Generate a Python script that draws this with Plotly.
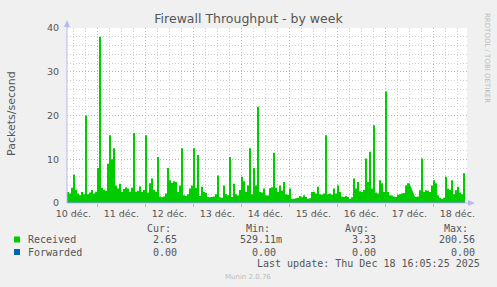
import plotly.graph_objects as go
import pandas as pd

# ---------------- data (hourly samples, packets/second) ----------------
received = [
    2.5, 2.2, 3.5, 6.5, 3.0, 2.2, 1.8, 2.5, 2.0, 20.0,
    2.0, 2.4, 3.0, 2.2, 2.6, 8.0, 38.0, 3.5, 3.0, 2.8,
    9.0, 15.5, 10.0, 12.5, 4.0, 3.3, 4.4, 2.6, 3.2, 3.6,
    3.3, 2.6, 3.5, 16.0, 2.6, 2.8, 3.8, 2.5, 3.0, 15.5,
    2.4, 4.5, 5.6, 3.0, 2.6, 10.5, 1.5, 1.3, 1.5, 2.2,
    8.0, 5.2, 4.6, 5.0, 4.8, 2.5, 4.0, 12.5, 1.8, 1.6,
    2.0, 3.3, 4.0, 12.5, 3.5, 11.0, 1.6, 3.7, 2.5, 2.3,
    1.4, 1.3, 1.4, 1.5, 2.0, 6.3, 1.3, 1.2, 4.0, 2.0,
    1.8, 10.5, 1.4, 4.4, 2.0, 1.7, 3.0, 6.0, 5.0, 2.5,
    4.0, 12.5, 2.0, 8.0, 4.0, 22.0, 2.5, 2.4, 3.3, 1.8,
    1.7, 3.4, 3.6, 11.5, 3.5, 2.5, 4.0, 2.8, 4.8, 2.0,
    1.9, 3.3, 1.0, 1.0, 1.1, 1.2, 1.6, 1.3, 1.8, 1.4,
    1.0, 1.1, 2.5, 2.6, 2.2, 3.7, 2.0, 1.9, 2.2, 15.5,
    2.0, 2.2, 1.9, 3.3, 2.2, 4.0, 2.5, 1.5, 1.4, 1.6,
    1.4, 1.0, 1.3, 5.6, 3.3, 4.8, 2.7, 2.6, 3.0, 10.2,
    4.8, 11.7, 3.3, 17.8, 2.4, 2.2, 5.2, 4.5, 2.5, 25.5,
    2.5, 1.8, 1.7, 1.5, 1.4, 1.9, 2.0, 2.2, 2.3, 4.0,
    4.5, 4.8, None, None, 1.4, 1.5, 2.9, 10.2, 2.5, 2.9,
    2.8, 2.5, 4.0, 5.2, 4.5, 1.8, 1.2, 1.0, 1.2, 6.0,
    3.3, 3.0, 5.2, 2.0, 2.9, 3.7, 2.4, 2.0, 6.8, 2.8,
]
forwarded = [0.0] * len(received)

day_labels = ["10 déc.", "11 déc.", "12 déc.", "13 déc.", "14 déc.",
              "15 déc.", "16 déc.", "17 déc.", "18 déc."]

series_names = ["Received", "Forwarded"]
series_colors = ["#00CC00", "#0066B3"]
cur_vals = ["2.65", "0.00"]
min_vals = ["529.11m", "0.00"]
avg_vals = ["3.33", "0.00"]
max_vals = ["200.56", "0.00"]

title = "Firewall Throughput - by week"
y_title = "Packets/second"
last_update = "Last update: Thu Dec 18 16:05:25 2025"
footer = "Munin 2.0.76"
side_text = "RRDTOOL / TOBI OETIKER"

# ---------------- time base ----------------
start = pd.Timestamp("2025-12-10 08:50")
times = pd.date_range(start, periods=len(received), freq="h")
x_end = start + pd.Timedelta(hours=200)
label_pos = pd.date_range("2025-12-10 12:00", periods=len(day_labels), freq="D")

# ---------------- layout geometry (pixels) ----------------
W, H = 497, 287
L, R, T, B = 67, 30, 28, 84
PW, PH = W - L - R, H - T - B


def px(x):
    return (x - L) / PW


def py(y):
    return (T + PH - y) / PH


TXT = "#555555"
MONO = "DejaVu Sans Mono"
SANS = "DejaVu Sans"
AXC = "#B8B8F0"
MAJ = "#E8A8A8"
MIN = "#CFCFCF"

fig = go.Figure()
fig.add_trace(go.Scatter(
    x=times, y=received, mode="lines", line=dict(width=0, shape="hv", color=series_colors[0]),
    fill="tozeroy", fillcolor=series_colors[0], connectgaps=False, showlegend=False,
    hoverinfo="skip",
))
fig.add_trace(go.Scatter(
    x=times, y=forwarded, mode="lines", line=dict(width=1, shape="hv", color=series_colors[1]),
    showlegend=False, hoverinfo="skip", xaxis="x2",
))

annotations = []
shapes = []

# legend header
for txt, right in zip(["Cur:", "Min:", "Avg:", "Max:"], [173, 272, 371, 470]):
    annotations.append(dict(text=txt, x=px(right), y=py(228), xref="paper", yref="paper",
                            xanchor="right", yanchor="middle", showarrow=False,
                            font=dict(family=MONO, size=10, color=TXT)))

rows_y = [239.5, 252]
min_right = [284, 278]
for i in range(2):
    yy = rows_y[i]
    shapes.append(dict(type="rect", xref="paper", yref="paper",
                       x0=px(14), x1=px(20), y0=py(yy - 3), y1=py(yy + 3),
                       fillcolor=series_colors[i], line=dict(width=0)))
    annotations.append(dict(text=series_names[i], x=px(26), y=py(yy), xref="paper", yref="paper",
                            xanchor="left", yanchor="middle", showarrow=False,
                            font=dict(family=MONO, size=10, color=TXT)))
    for val, right in [(cur_vals[i], 179), (min_vals[i], min_right[i]),
                       (avg_vals[i], 378), (max_vals[i], 477)]:
        annotations.append(dict(text=val, x=px(right), y=py(yy), xref="paper", yref="paper",
                                xanchor="right", yanchor="middle", showarrow=False,
                                font=dict(family=MONO, size=10, color=TXT)))

annotations.append(dict(text=last_update, x=px(482), y=py(263.5), xref="paper", yref="paper",
                        xanchor="right", yanchor="middle", showarrow=False,
                        font=dict(family=MONO, size=10, color=TXT)))
annotations.append(dict(text=footer, x=px(248), y=py(277), xref="paper", yref="paper",
                        xanchor="center", yanchor="middle", showarrow=False,
                        font=dict(family=SANS, size=7, color="#BBBBBB")))
annotations.append(dict(text=side_text, x=px(487), y=py(58), xref="paper", yref="paper",
                        xanchor="center", yanchor="middle", showarrow=False, textangle=90,
                        font=dict(family=SANS, size=7, color="#BBBBBB")))
annotations.append(dict(text=y_title, x=px(11), y=py(113), xref="paper", yref="paper",
                        xanchor="center", yanchor="middle", showarrow=False, textangle=-90,
                        font=dict(family=SANS, size=11, color=TXT)))

# axis extensions and arrows
shapes.append(dict(type="line", xref="paper", yref="paper", x0=px(67), x1=px(67),
                   y0=py(203), y1=py(24), line=dict(color=AXC, width=1)))
shapes.append(dict(type="line", xref="paper", yref="paper", x0=px(67), x1=px(471),
                   y0=py(203), y1=py(203), line=dict(color=AXC, width=1)))
shapes.append(dict(type="path", xref="paper", yref="paper",
                   path=f"M {px(67)} {py(20)} L {px(64)} {py(27)} L {px(70)} {py(27)} Z",
                   fillcolor=AXC, line=dict(width=0)))
shapes.append(dict(type="path", xref="paper", yref="paper",
                   path=f"M {px(475)} {py(203)} L {px(468)} {py(200)} L {px(468)} {py(206)} Z",
                   fillcolor=AXC, line=dict(width=0)))

fig.update_layout(
    width=W, height=H,
    margin=dict(l=L, r=R, t=T, b=B, pad=0),
    paper_bgcolor="#F0F0F0", plot_bgcolor="#FFFFFF",
    title=dict(text=title, x=0.5, xref="container", xanchor="center",
               y=1 - 19 / H, yref="container", yanchor="middle",
               font=dict(family=SANS, size=12.5, color=TXT)),
    font=dict(family=SANS, color=TXT),
    showlegend=False,
    annotations=annotations,
    shapes=shapes,
    xaxis=dict(
        type="date", range=[start, x_end],
        tick0="2025-12-11 00:00", dtick=86400000,
        showticklabels=False, showgrid=True, gridcolor=MAJ, griddash="1px,2px", gridwidth=1,
        ticks="outside", ticklen=3, tickcolor=MAJ,
        minor=dict(tick0="2025-12-11 00:00", dtick=21600000, showgrid=True,
                   gridcolor=MIN, griddash="1px,2px", gridwidth=1, ticks=""),
        showline=False, zeroline=False, fixedrange=True,
    ),
    xaxis2=dict(
        type="date", overlaying="x", matches="x", anchor="y", side="bottom",
        range=[start, x_end],
        tickmode="array", tickvals=list(label_pos), ticktext=day_labels,
        showgrid=False, showline=False, zeroline=False, ticks="",
        ticklabelstandoff=3,
        tickfont=dict(family=SANS, size=9.5, color=TXT),
    ),
    yaxis=dict(
        range=[0, 40], tick0=0, dtick=10,
        showgrid=True, gridcolor=MAJ, griddash="1px,2px", gridwidth=1,
        minor=dict(dtick=2, showgrid=True, gridcolor=MIN, griddash="1px,2px", gridwidth=1),
        tickfont=dict(family=SANS, size=9.5, color=TXT),
        ticks="", ticklabelstandoff=7,
        showline=False, zeroline=False, fixedrange=True,
    ),
)

fig.write_html("out.html")
